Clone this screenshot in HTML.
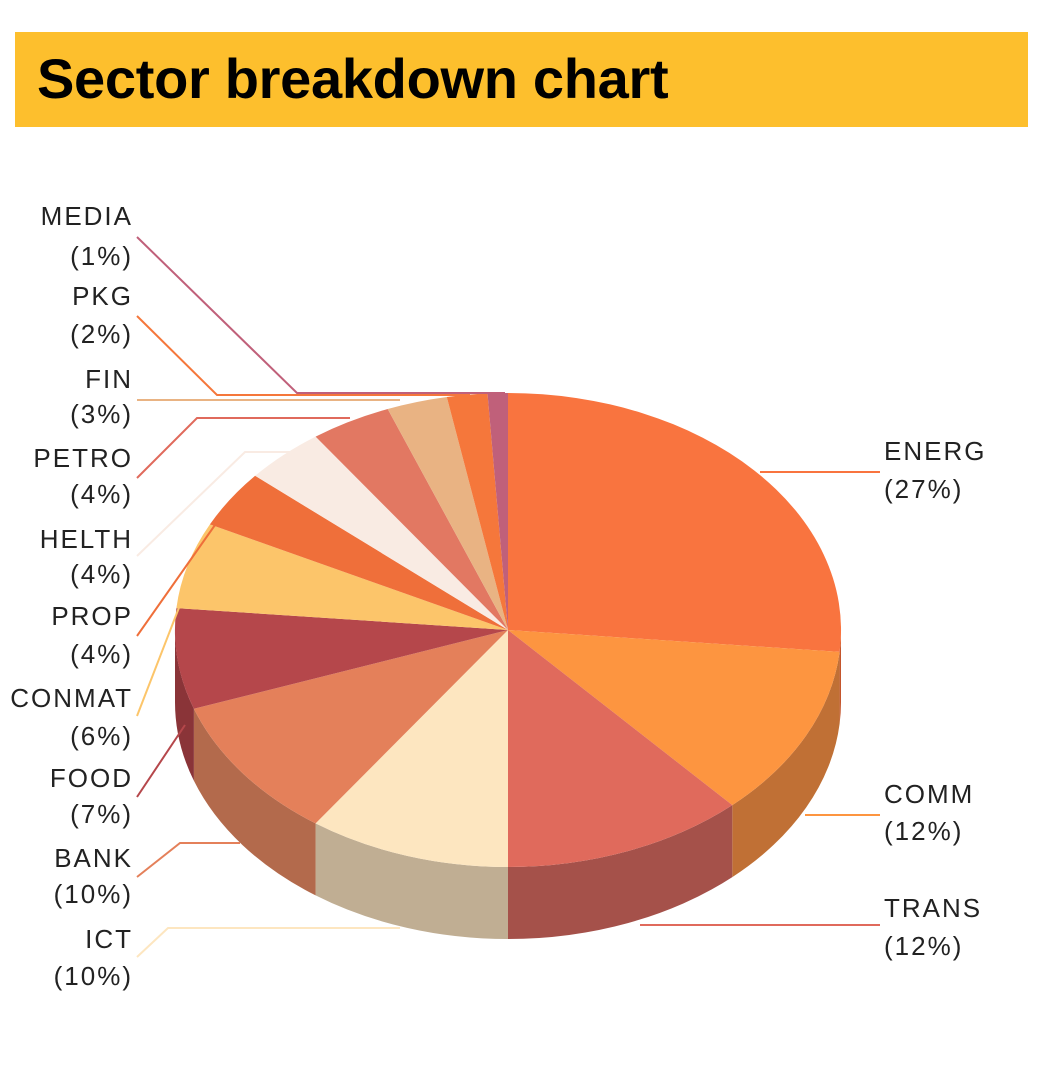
<!DOCTYPE html>
<html><head><meta charset="utf-8"><style>
body{margin:0;background:#fff;width:1060px;height:1066px;overflow:hidden;font-family:"Liberation Sans",sans-serif}
#bar{position:absolute;left:15px;top:32px;width:1013px;height:95px;background:#fdbf2d}
#bar span{position:absolute;left:22px;top:14px;font-weight:bold;font-size:56px;letter-spacing:-0.3px;color:#000}
svg{position:absolute;left:0;top:0}
</style></head><body>
<div id="bar"><span>Sector breakdown chart</span></div>
<svg id="s" width="1060" height="1066" xmlns="http://www.w3.org/2000/svg"></svg>
<script>
var cx=508,cy=630,rx=333,ry=237,d=72;
var data=[["ENERG",27,"#f9743f","#c4552c"],["COMM",12,"#fd9540","#c07035"],["TRANS",12,"#e06a5c","#a5514a"],["ICT",10,"#fde6c0","#c0ae93"],["BANK",10,"#e4805a","#b36a4c"],["FOOD",7,"#b5474b","#8a3438"],["CONMAT",6,"#fcc56a","#c09a50"],["PROP",4,"#ef6f3a","#b0502a"],["HELTH",4,"#f9ebe3","#c0b0a8"],["PETRO",4,"#e27862","#a85848"],["FIN",3,"#e9b383","#b08860"],["PKG",2,"#f5773b","#b05530"],["MEDIA",1,"#c0607a","#904858"]];
var tot=102,sides="",tops="",a=-Math.PI/2;
function P(t,dy){return (cx+rx*Math.cos(t)).toFixed(1)+","+(cy+dy+ry*Math.sin(t)).toFixed(1)}
data.forEach(function(e){
 var a2=a+e[1]/tot*2*Math.PI;
 var s1=Math.max(a,0),s2=Math.min(a2,Math.PI);
 if(s2>s1){sides+='<path d="M'+P(s1,0)+' A'+rx+','+ry+' 0 0 1 '+P(s2,0)+' L'+P(s2,d)+' A'+rx+','+ry+' 0 0 0 '+P(s1,d)+' Z" fill="'+e[3]+'"/>';}
 var lg=(a2-a)>Math.PI?1:0;
 tops+='<path d="M'+cx+','+cy+' L'+P(a,0)+' A'+rx+','+ry+' 0 '+lg+' 1 '+P(a2,0)+' Z" fill="'+e[2]+'"/>';
 a=a2;
});
var L=[["#c0607a","137,237 297,393 505,393"],["#f5773b","137,316 217,395 470,395"],["#e9b383","137,400 400,400"],["#e06a5c","137,478 197,418 350,418"],["#f9ebe3","137,556 245,452 290,452"],["#ef6f3a","137,636 215,525"],["#fcc56a","137,716 180,605"],["#b5474b","137,797 185,725"],["#e4805a","137,877 180,843 240,843"],["#fde6c0","137,957 168,928 400,928"],["#f9743f","760,472 880,472"],["#fd9540","805,815 880,815"],["#e06a5c","640,925 880,925"]];
var lines="";L.forEach(function(l){lines+='<polyline points="'+l[1]+'" fill="none" stroke="'+l[0]+'" stroke-width="2"/>'});
var T=[["MEDIA",215],["(1%)",255],["PKG",295],["(2%)",333],["FIN",378],["(3%)",413],["PETRO",457],["(4%)",493],["HELTH",538],["(4%)",573],["PROP",615],["(4%)",653],["CONMAT",697],["(6%)",735],["FOOD",777],["(7%)",813],["BANK",857],["(10%)",893],["ICT",938],["(10%)",975]];
var txt="";T.forEach(function(t){txt+='<text x="133" y="'+(t[1]+10)+'" text-anchor="end">'+t[0]+'</text>'});
[["ENERG",450],["(27%)",488],["COMM",793],["(12%)",830],["TRANS",907],["(12%)",945]].forEach(function(t){txt+='<text x="884" y="'+(t[1]+10)+'">'+t[0]+'</text>'});
document.getElementById("s").innerHTML=sides+tops+lines+'<g font-family="Liberation Sans,sans-serif" font-size="26" letter-spacing="2" fill="#222">'+txt+'</g>';
</script>
</body></html>
